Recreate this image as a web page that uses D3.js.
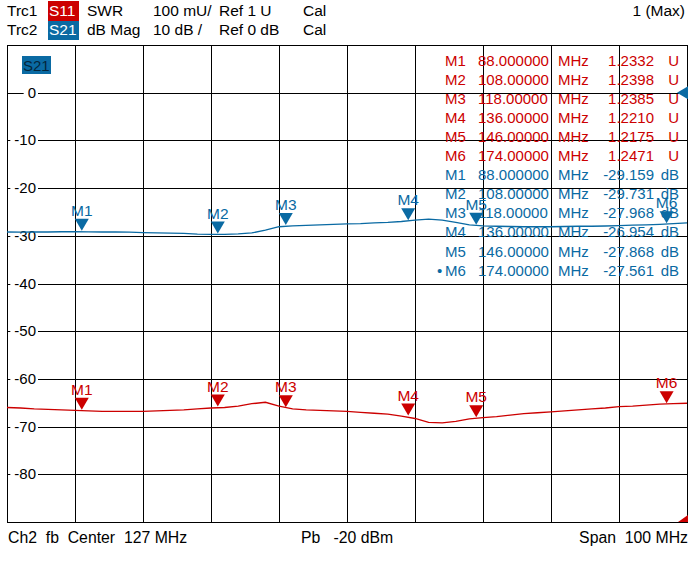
<!DOCTYPE html>
<html lang="en">
<meta charset="utf-8">
<head>
    <script src='https://d3js.org/d3.v7.min.js'></script>
    <style>
        body { margin: 0; background: #fff; }
        text { font-family: "Liberation Sans", Arial, sans-serif; font-size: 15px; }
        .hdr { font-size: 15.5px; }
        .foot { font-size: 15.8px; }
    </style>
</head>
<body>
<script>
// sweep: center 127 MHz, span 100 MHz, samples every 2 MHz
const freqs = [77,79,81,83,85,87,89,91,93,95,97,99,101,103,105,107,109,111,113,115,117,119,121,123,125,127,
    129,131,133,135,137,139,141,143,145,147,149,151,153,155,157,159,161,163,165,167,169,171,173,175,177];

// Trc1 S11 SWR (U)
const s11 = [1.240,1.239,1.237,1.236,1.235,1.234,1.233,1.232,1.232,1.232,1.232,1.233,1.234,1.235,1.237,1.239,
    1.240,1.243,1.248,1.251,1.243,1.237,1.235,1.234,1.233,1.232,1.230,1.228,1.226,1.222,1.217,1.209,1.208,
    1.211,1.216,1.219,1.221,1.224,1.227,1.229,1.231,1.233,1.235,1.237,1.239,1.242,1.243,1.245,1.247,1.248,1.249];

// Trc2 S21 dB Mag
const s21 = [-29.20,-29.25,-29.20,-29.20,-29.15,-29.15,-29.17,-29.20,-29.20,-29.25,-29.35,-29.40,-29.45,-29.50,
    -29.65,-29.70,-29.70,-29.60,-29.40,-28.80,-28.10,-27.90,-27.80,-27.70,-27.60,-27.50,-27.45,-27.30,-27.20,
    -27.00,-26.70,-26.50,-26.70,-27.20,-27.70,-27.90,-28.00,-28.05,-28.10,-28.10,-28.10,-28.05,-28.00,-28.00,
    -27.95,-27.85,-27.75,-27.70,-27.60,-27.45,-27.30];

// markers
const markerNames = ["M1","M2","M3","M4","M5","M6"];
const markerFreqs = [88,108,118,136,146,174];
const markerFreqText = ["88.000000","108.00000","118.00000","136.00000","146.00000","174.00000"];
const s11Markers = [1.2332,1.2398,1.2385,1.2210,1.2175,1.2471];
const s21Markers = [-29.159,-29.731,-27.968,-26.954,-27.868,-27.561];

// tick labels of the dB scale
const dbTicks = [0,-10,-20,-30,-40,-50,-60,-70,-80];

const red = "#cc0000";
const blue = "#0a6aa3";

const W = 695, H = 579;
const pL = 7, pR = 687, pT = 45, pB = 522;

const svg = d3.select("body").append("svg")
    .attr("width", W)
    .attr("height", H);

svg.append("rect").attr("width", W).attr("height", H).attr("fill", "#fff");

var x = d3.scaleLinear().domain([77, 177]).range([pL, pR]);
var yDb = d3.scaleLinear().domain([-90, 10]).range([pB, pT]);
var ySwr = d3.scaleLinear().domain([1, 2]).range([pB, pT]);

// grid: 10 divisions each way
var xDiv = d3.range(1, 10).map(function(i) { return 77 + i * 10; });
var yDiv = d3.range(1, 10).map(function(i) { return 10 - i * 10; });

svg.append("g")
    .attr("transform", "translate(0," + pT + ")")
    .call(d3.axisTop(x).tickValues(xDiv).tickSize(-(pB - pT)).tickFormat(""))
    .call(function(g) { g.select(".domain").remove(); })
    .selectAll("line").attr("stroke", "#000").attr("shape-rendering", "crispEdges");

svg.append("g")
    .attr("transform", "translate(" + pL + ",0)")
    .call(d3.axisLeft(yDb).tickValues(yDiv).tickSize(-(pR - pL)).tickFormat(""))
    .call(function(g) { g.select(".domain").remove(); })
    .selectAll("line").attr("stroke", "#000").attr("shape-rendering", "crispEdges");

svg.append("rect")
    .attr("x", pL).attr("y", pT)
    .attr("width", pR - pL).attr("height", pB - pT)
    .attr("fill", "none").attr("stroke", "#000")
    .attr("shape-rendering", "crispEdges");

// dB labels, sitting in a white gap of the grid line
dbTicks.forEach(function(v) {
    var t = svg.append("text")
        .attr("x", 36).attr("y", yDb(v) + 5)
        .attr("text-anchor", "end")
        .text(v);
    var b = t.node().getBBox();
    svg.insert("rect", function() { return t.node(); })
        .attr("x", b.x - 4).attr("y", yDb(v) - 3)
        .attr("width", b.width + 6).attr("height", 6)
        .attr("fill", "#fff");
});

// S21 tag in the plot
svg.append("rect").attr("x", 22).attr("y", 56).attr("width", 29).attr("height", 18).attr("fill", blue);
svg.append("text").attr("x", 23).attr("y", 70.5).attr("fill", "#04263c").text("S21");

// marker table
var rows = markerNames.map(function(m, i) {
    return {name: m, f: markerFreqText[i], v: s11Markers[i].toFixed(4), u: "U", c: red, dot: false};
}).concat(markerNames.map(function(m, i) {
    return {name: m, f: markerFreqText[i], v: s21Markers[i].toFixed(3), u: "dB", c: blue, dot: i == 5};
}));

var tbl = svg.append("g");
rows.forEach(function(r, i) {
    var yy = 66 + i * 19.05;
    if (r.dot) tbl.append("text").attr("x", 437).attr("y", yy).attr("fill", r.c).text("\u2022");
    tbl.append("text").attr("x", 445).attr("y", yy).attr("fill", r.c).text(r.name);
    tbl.append("text").attr("x", 478).attr("y", yy).attr("fill", r.c).text(r.f);
    tbl.append("text").attr("x", 558).attr("y", yy).attr("fill", r.c).text("MHz");
    tbl.append("text").attr("x", 654).attr("y", yy).attr("text-anchor", "end").attr("fill", r.c).text(r.v);
    tbl.append("text").attr("x", 679).attr("y", yy).attr("text-anchor", "end").attr("fill", r.c).text(r.u);
});

// traces
var lineSwr = d3.line()
    .x(function(d, i) { return x(freqs[i]); })
    .y(function(d) { return ySwr(d); });
var lineDb = d3.line()
    .x(function(d, i) { return x(freqs[i]); })
    .y(function(d) { return yDb(d); });

svg.append("path").datum(s11)
    .attr("d", lineSwr).attr("fill", "none")
    .attr("stroke", red).attr("stroke-width", 1.3);
svg.append("path").datum(s21)
    .attr("d", lineDb).attr("fill", "none")
    .attr("stroke", blue).attr("stroke-width", 1.3);

// marker symbols
function drawMarkers(vals, yScale, col) {
    vals.forEach(function(v, i) {
        var px = x(markerFreqs[i]), py = yScale(v) - 1;
        svg.append("path")
            .attr("d", "M" + (px - 7) + "," + (py - 12) + "L" + (px + 7) + "," + (py - 12) + "L" + px + "," + py + "Z")
            .attr("fill", col);
        svg.append("text")
            .attr("x", px).attr("y", py - 15)
            .attr("text-anchor", "middle")
            .attr("fill", col)
            .style("font-size", "15.5px")
            .text(markerNames[i]);
    });
}
drawMarkers(s11Markers, ySwr, red);
drawMarkers(s21Markers, yDb, blue);

// reference position arrows
svg.append("path").attr("d", "M677," + yDb(0) + "L688," + (yDb(0) - 6.5) + "L688," + (yDb(0) + 6.5) + "Z").attr("fill", blue);
svg.append("path").attr("d", "M688," + (ySwr(1) - 7) + "L688," + ySwr(1) + "L678," + ySwr(1) + "Z").attr("fill", red);

// header
svg.append("rect").attr("x", 48).attr("y", 1).attr("width", 31).attr("height", 20).attr("fill", red);
svg.append("rect").attr("x", 48).attr("y", 21).attr("width", 31).attr("height", 19).attr("fill", blue);

var hdr = [
    [7, 16, "Trc1", "#000"], [49, 16, "S11", "#fff"], [87, 16, "SWR", "#000"], [153, 16, "100 mU/", "#000"],
    [219, 16, "Ref 1 U", "#000"], [303, 16, "Cal", "#000"],
    [7, 35, "Trc2", "#000"], [49, 35, "S21", "#fff"], [87, 35, "dB Mag", "#000"], [153, 35, "10 dB /", "#000"],
    [219, 35, "Ref 0 dB", "#000"], [303, 35, "Cal", "#000"]
];
hdr.forEach(function(h) {
    svg.append("text").attr("class", "hdr").attr("x", h[0]).attr("y", h[1]).attr("fill", h[3])
        .attr("xml:space", "preserve").text(h[2]);
});
svg.append("text").attr("class", "hdr").attr("x", 685).attr("y", 16).attr("text-anchor", "end").text("1 (Max)");

// footer
svg.append("text").attr("class", "foot").attr("x", 8).attr("y", 543).attr("xml:space", "preserve").text("Ch2  fb  Center  127 MHz");
svg.append("text").attr("class", "foot").attr("x", 301).attr("y", 543).attr("xml:space", "preserve").text("Pb   -20 dBm");
svg.append("text").attr("class", "foot").attr("x", 688).attr("y", 543).attr("text-anchor", "end").attr("xml:space", "preserve").text("Span  100 MHz");
</script>
</body>
</html>
